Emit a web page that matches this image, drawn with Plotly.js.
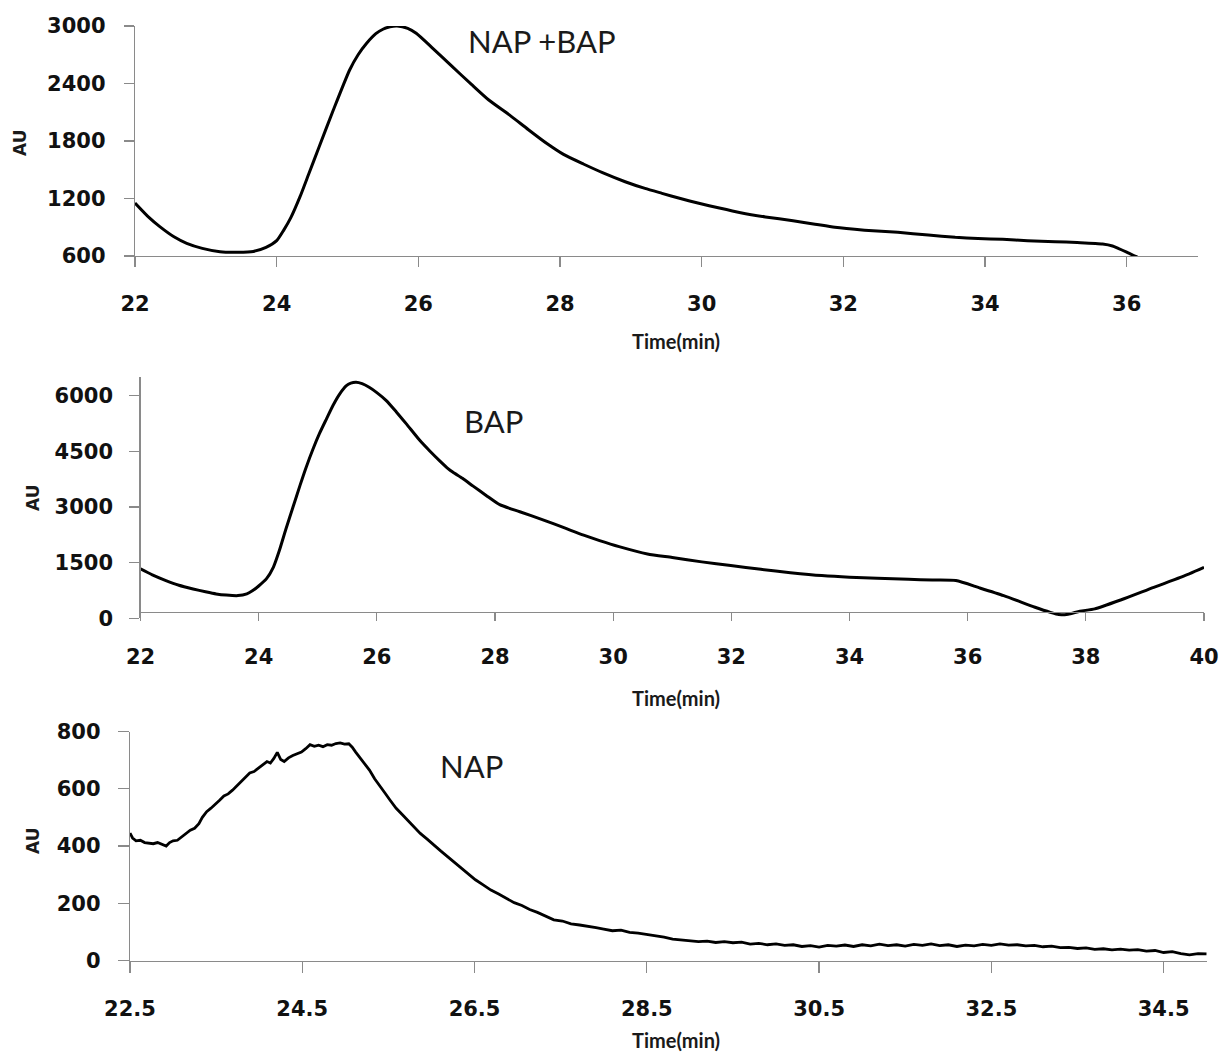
<!DOCTYPE html>
<html>
<head>
<meta charset="utf-8">
<script src="https://cdn.plot.ly/plotly-3.0.1.min.js"></script>
<style>html,body{margin:0;padding:0;background:#fff;}#chart{width:1222px;height:1053px;}</style>
</head>
<body>
<div id="chart"></div>
<script>
// ---- Data: NAP + BAP ----
const mixTime = [22.00,22.20,22.35,22.55,22.73,22.95,23.20,23.45,23.67,23.85,24.00,24.10,24.20,24.33,24.45,24.60,24.80,25.03,25.15,25.27,25.40,25.50,25.60,25.70,25.85,25.97,26.20,26.48,26.75,26.99,27.29,27.55,27.81,28.05,28.33,28.60,28.92,29.20,29.44,29.70,29.96,30.25,30.55,30.90,31.29,31.60,31.88,32.30,32.77,33.20,33.58,33.90,34.25,34.60,34.99,35.30,35.66,35.80,35.88,36.00,36.10,36.15];
const mixAU   = [1153,1000,906,800,732,680,645,640,648,690,760,870,1000,1219,1450,1740,2123,2541,2700,2820,2920,2966,2992,3000,2975,2924,2770,2576,2390,2230,2070,1920,1776,1660,1560,1470,1375,1305,1254,1200,1150,1100,1052,1008,968,932,899,870,847,818,795,783,774,760,750,740,725,705,680,640,605,590];

// ---- Data: BAP ----
const bapTime = [22.00,22.20,22.43,22.65,22.89,23.10,23.28,23.45,23.65,23.80,23.90,24.00,24.13,24.25,24.35,24.46,24.58,24.70,24.80,24.92,25.03,25.15,25.26,25.37,25.48,25.56,25.65,25.75,25.87,26.00,26.16,26.33,26.50,26.73,26.90,27.06,27.20,27.29,27.45,27.63,27.85,28.08,28.42,28.80,29.20,29.50,29.77,30.10,30.58,31.00,31.50,31.99,32.50,33.00,33.53,34.00,34.47,35.00,35.40,35.80,36.20,36.61,37.14,37.40,37.54,37.70,37.90,38.15,38.60,39.15,39.60,40.00];
const bapAU   = [1331,1170,1016,890,791,715,657,625,611,660,746,870,1061,1380,1824,2400,2990,3580,4050,4560,4980,5380,5740,6040,6260,6335,6358,6320,6223,6080,5865,5560,5237,4787,4500,4248,4040,3933,3770,3560,3310,3060,2870,2660,2420,2240,2093,1930,1734,1640,1520,1420,1320,1230,1150,1105,1078,1050,1030,1016,820,611,297,160,100,110,190,253,500,835,1100,1374];

// ---- Data: NAP ----
const napTime = [22.50,22.53,22.57,22.62,22.67,22.72,22.77,22.82,22.87,22.92,22.96,23.00,23.05,23.10,23.15,23.20,23.25,23.30,23.34,23.39,23.44,23.49,23.54,23.59,23.64,23.69,23.74,23.79,23.84,23.89,23.94,23.99,24.04,24.09,24.13,24.17,24.21,24.25,24.29,24.34,24.39,24.44,24.49,24.54,24.59,24.64,24.69,24.74,24.79,24.84,24.89,24.94,24.99,25.04,25.08,25.12,25.17,25.22,25.28,25.34,25.40,25.46,25.52,25.59,25.66,25.73,25.80,25.87,25.95,26.03,26.11,26.19,26.27,26.35,26.43,26.51,26.60,26.69,26.78,26.87,26.96,27.05,27.14,27.23,27.32,27.42,27.52,27.62,27.72,27.82,27.91,
  28.0,28.1,28.2,28.3,28.4,28.5,28.6,28.7,28.8,28.9,29.0,29.1,29.2,29.3,29.4,29.5,29.6,29.7,29.8,29.9,30.0,30.1,30.2,30.3,30.4,30.5,30.6,30.7,30.8,30.9,31.0,31.1,31.2,31.3,31.4,31.5,31.6,31.7,31.8,31.9,32.0,32.1,32.2,32.3,32.4,32.5,32.6,32.7,32.8,32.9,33.0,33.1,33.2,33.3,33.4,33.5,33.6,33.7,33.8,33.9,34.0,34.1,34.2,34.3,34.4,34.5,34.6,34.7,34.8,34.9,35.0];
const napAU   = [445,428,418,420,412,410,408,412,406,400,412,418,420,432,446,455,462,478,500,520,532,545,560,575,582,595,610,625,640,655,660,672,682,695,690,706,727,702,695,708,716,722,728,740,754,748,752,747,754,752,758,760,756,757,745,728,708,690,665,635,608,585,560,532,510,487,465,444,424,402,382,362,342,322,300,282,264,246,232,218,202,192,178,168,156,142,138,128,124,118,115,
  110,104,106,98,96,92,86,82,75,72,70,66,68,63,66,62,64,57,60,55,58,53,55,49,52,47,53,50,54,49,55,51,57,52,55,50,56,53,58,52,55,49,54,51,56,53,58,54,55,51,53,48,50,45,46,42,44,39,41,37,40,36,38,33,35,28,31,24,20,24,23];

// ---- Text ----
const panelLabels = ["NAP +BAP", "BAP", "NAP"];
const xTitle = "Time(min)";
const yTitle = "AU";

// ---- Layout helpers (pixel geometry of the 1222x1053 page) ----
const W = 1222, H = 1053;
const px = v => v / W;
const py = v => 1 - v / H;

const axisGray = '#8a8a8a';
const tickFont = {family: 'DejaVu Sans', size: 21, color: '#111', weight: 'bold'};

function xAx(domain, range, tick0, dtick, ticklen, extra) {
  return Object.assign({
    domain: domain, range: range, tick0: tick0, dtick: dtick, tickmode: 'linear',
    showline: true, linecolor: axisGray, linewidth: 1.3,
    ticks: 'outside', ticklen: ticklen, tickcolor: axisGray, tickwidth: 1.3,
    showgrid: false, zeroline: false, automargin: false,
    tickfont: tickFont, ticklabelstandoff: 18, fixedrange: true
  }, extra || {});
}
function yAx(domain, range, tick0, dtick, ticklen, standoff, extra) {
  return Object.assign({
    domain: domain, range: range, tick0: tick0, dtick: dtick, tickmode: 'linear',
    showline: true, linecolor: axisGray, linewidth: 1.3,
    ticks: 'outside', ticklen: ticklen, tickcolor: axisGray, tickwidth: 1.3,
    showgrid: false, zeroline: false, automargin: false,
    tickfont: tickFont, ticklabelstandoff: standoff, fixedrange: true
  }, extra || {});
}

const lineStyle = {color: '#000', width: 3, shape: 'spline', smoothing: 0.6};

const traces = [
  {x: mixTime, y: mixAU, xaxis: 'x', yaxis: 'y', mode: 'lines', line: lineStyle, name: panelLabels[0]},
  {x: bapTime, y: bapAU, xaxis: 'x2', yaxis: 'y2', mode: 'lines', line: lineStyle, name: panelLabels[1]},
  {x: napTime, y: napAU, xaxis: 'x3', yaxis: 'y3', mode: 'lines', line: {color: '#000', width: 2.8}, name: panelLabels[2]}
];

const labelFont = {family: 'Lato', size: 31, color: '#1a1a1a'};
const xtFont = {family: 'Lato', size: 20, color: '#1a1a1a', weight: 'bold'};
const ytFont = {family: 'DejaVu Sans', size: 17, color: '#1a1a1a', weight: 'bold'};

function ann(text, x, y, font, angle) {
  return {text: text, x: px(x), y: py(y), xref: 'paper', yref: 'paper',
          xanchor: 'center', yanchor: 'middle', showarrow: false, font: font, textangle: angle || 0};
}

const layout = {
  width: W, height: H,
  margin: {l: 0, r: 0, t: 0, b: 0, pad: 0},
  paper_bgcolor: '#fff', plot_bgcolor: '#fff',
  showlegend: false,
  xaxis:  xAx([px(135), px(1197.5)], [22, 37], 22, 2, 10, {anchor: 'y'}),
  yaxis:  yAx([py(256), py(26)], [600, 3000], 600, 600, 10, 14, {anchor: 'x'}),
  xaxis2: xAx([px(140.5), px(1204)], [22, 40], 22, 2, 8, {anchor: 'free', position: py(611.7)}),
  yaxis2: yAx([py(618.3), py(377)], [0, 6500], 0, 1500, 10, 12, {anchor: 'x2'}),
  xaxis3: xAx([px(130), px(1206.7)], [22.5, 35.0], 22.5, 2, 11, {anchor: 'y3'}),
  yaxis3: yAx([py(960.5), py(731.5)], [0, 800], 0, 200, 11, 13, {anchor: 'x3'}),
  annotations: [
    ann(panelLabels[0], 542, 41, labelFont),
    ann(panelLabels[1], 493, 421, labelFont),
    ann(panelLabels[2], 471, 766, labelFont),
    ann(xTitle, 676, 341, xtFont),
    ann(xTitle, 676, 698, xtFont),
    ann(xTitle, 676, 1040, xtFont),
    ann(yTitle, 20, 143, ytFont, -90),
    ann(yTitle, 33, 498, ytFont, -90),
    ann(yTitle, 33, 841, ytFont, -90)
  ]
};

Plotly.newPlot('chart', traces, layout, {displayModeBar: false, staticPlot: true});
</script>
</body>
</html>
